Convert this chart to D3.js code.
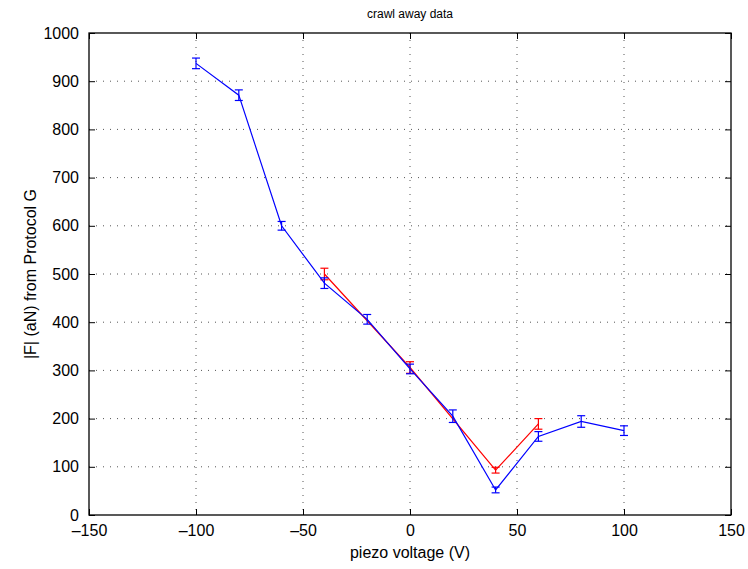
<!DOCTYPE html>
<html>
<head>
<meta charset="utf-8">
<script src="https://cdn.jsdelivr.net/npm/d3@7"></script>
<style>
body { margin: 0; background: #fff; }
text { font-family: "Liberation Sans", Arial, sans-serif; }
</style>
</head>
<body>
<div id="chart"></div>
<script>
// data
var blueX   = [-100, -80, -60, -40, -20, 0, 20, 40, 60, 80, 100];
var blueY   = [937, 871, 600, 481, 406, 303, 205, 52, 163, 194, 175];
var blueErr = [11, 11, 9, 11, 10, 10, 13, 6, 10, 12, 10];

var redX   = [-40, 0, 40, 60];
var redY   = [500, 306, 93, 189];
var redErr = [12, 12, 6, 11];

var xTicks = [-150, -100, -50, 0, 50, 100, 150];
var yTicks = [0, 100, 200, 300, 400, 500, 600, 700, 800, 900, 1000];

var width = 748, height = 569;
var pLeft = 89, pRight = 731, pTop = 33, pBottom = 515;

var svg = d3.select("#chart").append("svg")
  .attr("width", width)
  .attr("height", height);

var x = d3.scaleLinear().domain([-150, 150]).range([pLeft, pRight]);
var y = d3.scaleLinear().domain([0, 1000]).range([pBottom, pTop]);

// grid
svg.append("g").selectAll("line")
  .data(xTicks.slice(1, -1)).enter()
  .append("line")
  .attr("x1", d => x(d)).attr("x2", d => x(d))
  .attr("y1", pTop).attr("y2", pBottom)
  .attr("stroke", "#555").attr("stroke-width", 1)
  .attr("stroke-dasharray", "1,6");
svg.append("g").selectAll("line")
  .data(yTicks.slice(1, -1)).enter()
  .append("line")
  .attr("y1", d => y(d)).attr("y2", d => y(d))
  .attr("x1", pLeft).attr("x2", pRight)
  .attr("stroke", "#555").attr("stroke-width", 1)
  .attr("stroke-dasharray", "1,6");

// axes, ticks inside
var fs = "16px";
svg.append("g")
  .attr("transform", "translate(0," + pBottom + ")")
  .call(d3.axisBottom(x).tickValues(xTicks).tickSizeInner(-6).tickSizeOuter(0)
    .tickPadding(10).tickFormat(d => d < 0 ? "\u2013" + Math.abs(d) : d))
  .call(g => g.select(".domain").remove())
  .selectAll("text").attr("font-size", fs).attr("fill", "#000");
svg.append("g")
  .attr("transform", "translate(0," + pTop + ")")
  .call(d3.axisTop(x).tickValues(xTicks).tickSizeInner(-6).tickSizeOuter(0).tickFormat(""))
  .call(g => g.select(".domain").remove());
svg.append("g")
  .attr("transform", "translate(" + pLeft + ",0)")
  .call(d3.axisLeft(y).tickValues(yTicks).tickSizeInner(-6).tickSizeOuter(0).tickPadding(10)
    .tickFormat(d3.format("d")))
  .call(g => g.select(".domain").remove())
  .selectAll("text").attr("font-size", fs).attr("fill", "#000");
svg.append("g")
  .attr("transform", "translate(" + pRight + ",0)")
  .call(d3.axisRight(y).tickValues(yTicks).tickSizeInner(-6).tickSizeOuter(0).tickFormat(""))
  .call(g => g.select(".domain").remove());

svg.append("rect")
  .attr("x", pLeft).attr("y", pTop)
  .attr("width", pRight - pLeft).attr("height", pBottom - pTop)
  .attr("fill", "none").attr("stroke", "#000").attr("stroke-width", 1.3);

function drawSeries(xs, ys, es, color) {
  var pts = xs.map((d, i) => ({x: d, y: ys[i], e: es[i]}));
  var line = d3.line().x(d => x(d.x)).y(d => y(d.y));
  svg.append("path")
    .attr("d", line(pts))
    .attr("fill", "none")
    .attr("stroke", color)
    .attr("stroke-width", 1.2);
  var g = svg.append("g").attr("stroke", color).attr("stroke-width", 1.2);
  g.selectAll(".v").data(pts).enter().append("line")
    .attr("x1", d => x(d.x)).attr("x2", d => x(d.x))
    .attr("y1", d => y(d.y - d.e)).attr("y2", d => y(d.y + d.e));
  g.selectAll(".t").data(pts).enter().append("line")
    .attr("x1", d => x(d.x) - 4).attr("x2", d => x(d.x) + 4)
    .attr("y1", d => y(d.y + d.e)).attr("y2", d => y(d.y + d.e));
  g.selectAll(".b").data(pts).enter().append("line")
    .attr("x1", d => x(d.x) - 4).attr("x2", d => x(d.x) + 4)
    .attr("y1", d => y(d.y - d.e)).attr("y2", d => y(d.y - d.e));
}

drawSeries(redX, redY, redErr, "#ff0000");
drawSeries(blueX, blueY, blueErr, "#0000ff");

// titles
svg.append("text")
  .attr("x", (pLeft + pRight) / 2).attr("y", 18)
  .attr("text-anchor", "middle")
  .attr("font-size", "12px")
  .text("crawl away data");
svg.append("text")
  .attr("x", (pLeft + pRight) / 2).attr("y", 558)
  .attr("text-anchor", "middle")
  .attr("font-size", "16px")
  .text("piezo voltage (V)");
svg.append("text")
  .attr("transform", "translate(36," + ((pTop + pBottom) / 2) + ") rotate(-90)")
  .attr("text-anchor", "middle")
  .attr("font-size", "16px")
  .text("|F| (aN) from Protocol G");
</script>
</body>
</html>
